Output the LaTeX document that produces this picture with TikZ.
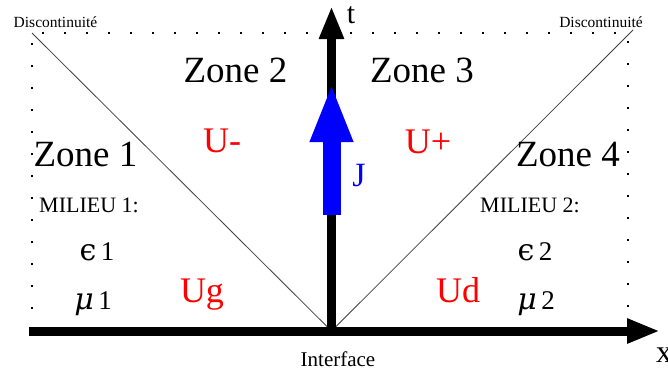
\documentclass[tikz,border=0pt]{standalone}
\usepackage{fontspec}
\setmainfont{Liberation Serif}
\newfontfamily\grk{DejaVu Serif}
\usetikzlibrary{arrows.meta}
\tikzset{
  lbl/.style={inner sep=0pt, anchor=base},
  zone/.style={lbl, font=\fontsize{37}{40}\selectfont},
  uval/.style={lbl, text=red, font=\fontsize{36}{40}\selectfont},
  milieu/.style={lbl, font=\fontsize{22}{24}\selectfont},
  param/.style={lbl, font=\fontsize{27}{30}\selectfont},
  small/.style={lbl, font=\fontsize{15.5}{17}\selectfont},
  axis/.style={line width=9pt, -{Triangle[length=33pt,width=23pt]}},
  disc/.style={line width=0.8pt, draw=black!75},
  dotline/.style={line width=1.6pt, dash pattern={on 1.6pt off 20.4pt}}
}
\newcommand{\gsz}{\fontsize{30}{32}\selectfont}
\begin{document}
\begin{tikzpicture}[x=1pt,y=-1pt]
\useasboundingbox (0,0) rectangle (668,376);
% key points
\coordinate (O) at (331.5,331);
\coordinate (xs) at (29,331);
\coordinate (xe) at (660,331);
\coordinate (te) at (331.5,6);
\coordinate (tl) at (32,33);
\coordinate (tr) at (628,33);
\coordinate (bl) at (32,331);
\coordinate (br) at (628,331);
\coordinate (dl) at (32,33);
\coordinate (dr) at (633,30);
\coordinate (js) at (331.5,215);
\coordinate (je) at (331.5,83);
% dotted frame
\draw[dotline] (bl) -- (tl) -- (tr) -- (br);
% discontinuity lines
\draw[disc] (dl) -- (O);
\draw[disc] (dr) -- (O);
% axes
\draw[axis] (xs) -- (xe);
\draw[axis] (O) -- (te);
% J arrow
\draw[blue, line width=18pt, -{Triangle[length=59pt,width=39pt]}] (js) -- (je);
% labels
\node[small] (d1) at (55.5,27) {Discontinuité};
\node[small] (d2) at (601,27) {Discontinuité};
\node[lbl, font=\fontsize{30}{32}\selectfont] (t) at (351,23) {t};
\node[lbl, font=\fontsize{32}{34}\selectfont] (x) at (664,362) {x};
\node[lbl, text=blue, font=\fontsize{34}{36}\selectfont] (J) at (359,186) {J};
\node[lbl, font=\fontsize{21}{23}\selectfont] (itf) at (338,366) {Interface};
\node[zone] (z1) at (85.5,166) {Zone 1};
\node[zone] (z2) at (235.5,82) {Zone 2};
\node[zone] (z3) at (422,82) {Zone 3};
\node[zone] (z4) at (568,166) {Zone 4};
\node[uval] (um) at (222,152) {U-};
\node[uval] (up) at (428,153) {U+};
\node[uval] (ug) at (202,302) {Ug};
\node[uval] (ud) at (458,302) {Ud};
\node[milieu] (m1) at (89,212) {MILIEU 1:};
\node[milieu] (m2) at (530,212) {MILIEU 2:};
\node[param] (e1) at (97,260) {{\grk\gsz ϵ}\,1};
\node[param] (e2) at (535,260) {{\grk\gsz ϵ}\,2};
\node[param] (u1) at (93,309) {{\grk\itshape\gsz μ}\,1};
\node[param] (u2) at (536,309) {{\grk\itshape\gsz μ}\,2};
\end{tikzpicture}
\end{document}
